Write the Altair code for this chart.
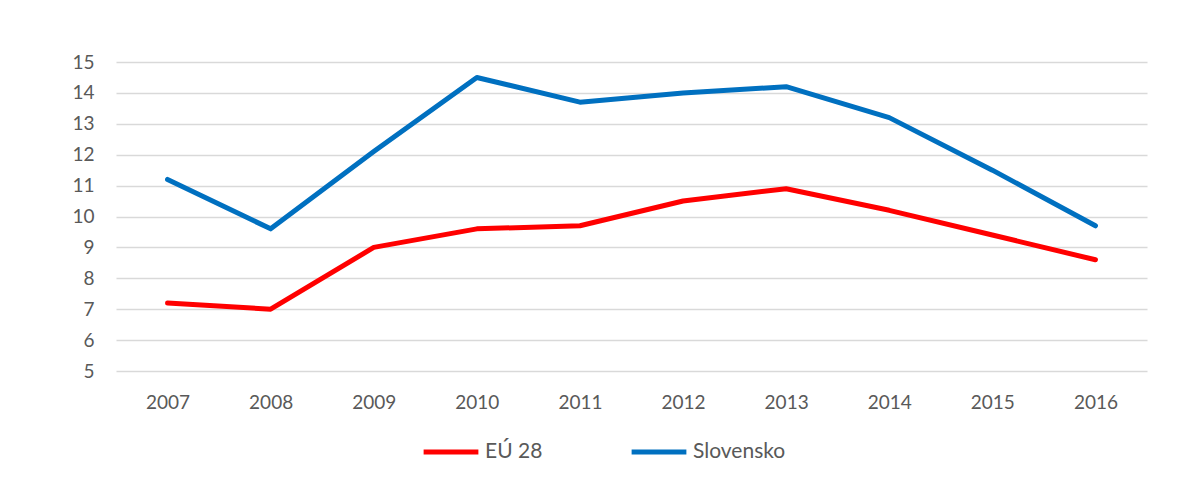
import altair as alt
import pandas as pd

years = ["2007", "2008", "2009", "2010", "2011", "2012", "2013", "2014", "2015", "2016"]
eu28 = [7.2, 7.0, 9.0, 9.6, 9.7, 10.5, 10.9, 10.2, 9.4, 8.6]
slovensko = [11.2, 9.6, 12.1, 14.5, 13.7, 14.0, 14.2, 13.2, 11.5, 9.7]
series_names = ["EÚ 28", "Slovensko"]
series_colors = ["#ff0000", "#0070c0"]

rows = []
for name, vals in zip(series_names, [eu28, slovensko]):
    for y, v in zip(years, vals):
        rows.append({"year": y, "value": v, "series": name})
df = pd.DataFrame(rows)

FONT = "Lato"
TXT = "#595959"

chart = alt.Chart(df).mark_line(strokeWidth=5, strokeCap="round", strokeJoin="round").encode(
    x=alt.X("year:O", sort=years, title=None,
            scale=alt.Scale(type="point", padding=0.5),
            axis=alt.Axis(labelAngle=0, ticks=False, domain=False, grid=False,
                          labelFont=FONT, labelFontSize=19, labelColor=TXT, labelPadding=22)),
    y=alt.Y("value:Q", title=None,
            scale=alt.Scale(domain=[5, 15], nice=False, zero=False),
            axis=alt.Axis(values=list(range(5, 16)), ticks=False, domain=False,
                          gridColor="#d9d9d9", gridWidth=1.5,
                          labelFont=FONT, labelFontSize=19, labelColor=TXT, labelPadding=22)),
    color=alt.Color("series:N", title=None,
                    scale=alt.Scale(domain=series_names, range=series_colors),
                    legend=alt.Legend(orient="none", legendX=305, legendY=360, direction="horizontal",
                                      symbolType="stroke", symbolSize=3000, symbolStrokeWidth=5,
                                      labelFont=FONT, labelFontSize=21, labelColor=TXT,
                                      columnPadding=78, labelOffset=4)),
).properties(
    width=1031, height=309,
    padding={"left": 108, "top": 54, "right": 29, "bottom": 99},
    autosize=alt.AutoSizeParams(type="none"),
    background="white",
).configure_view(stroke=None)

chart.save("out.html", embed_options={"renderer": "svg", "actions": False})
